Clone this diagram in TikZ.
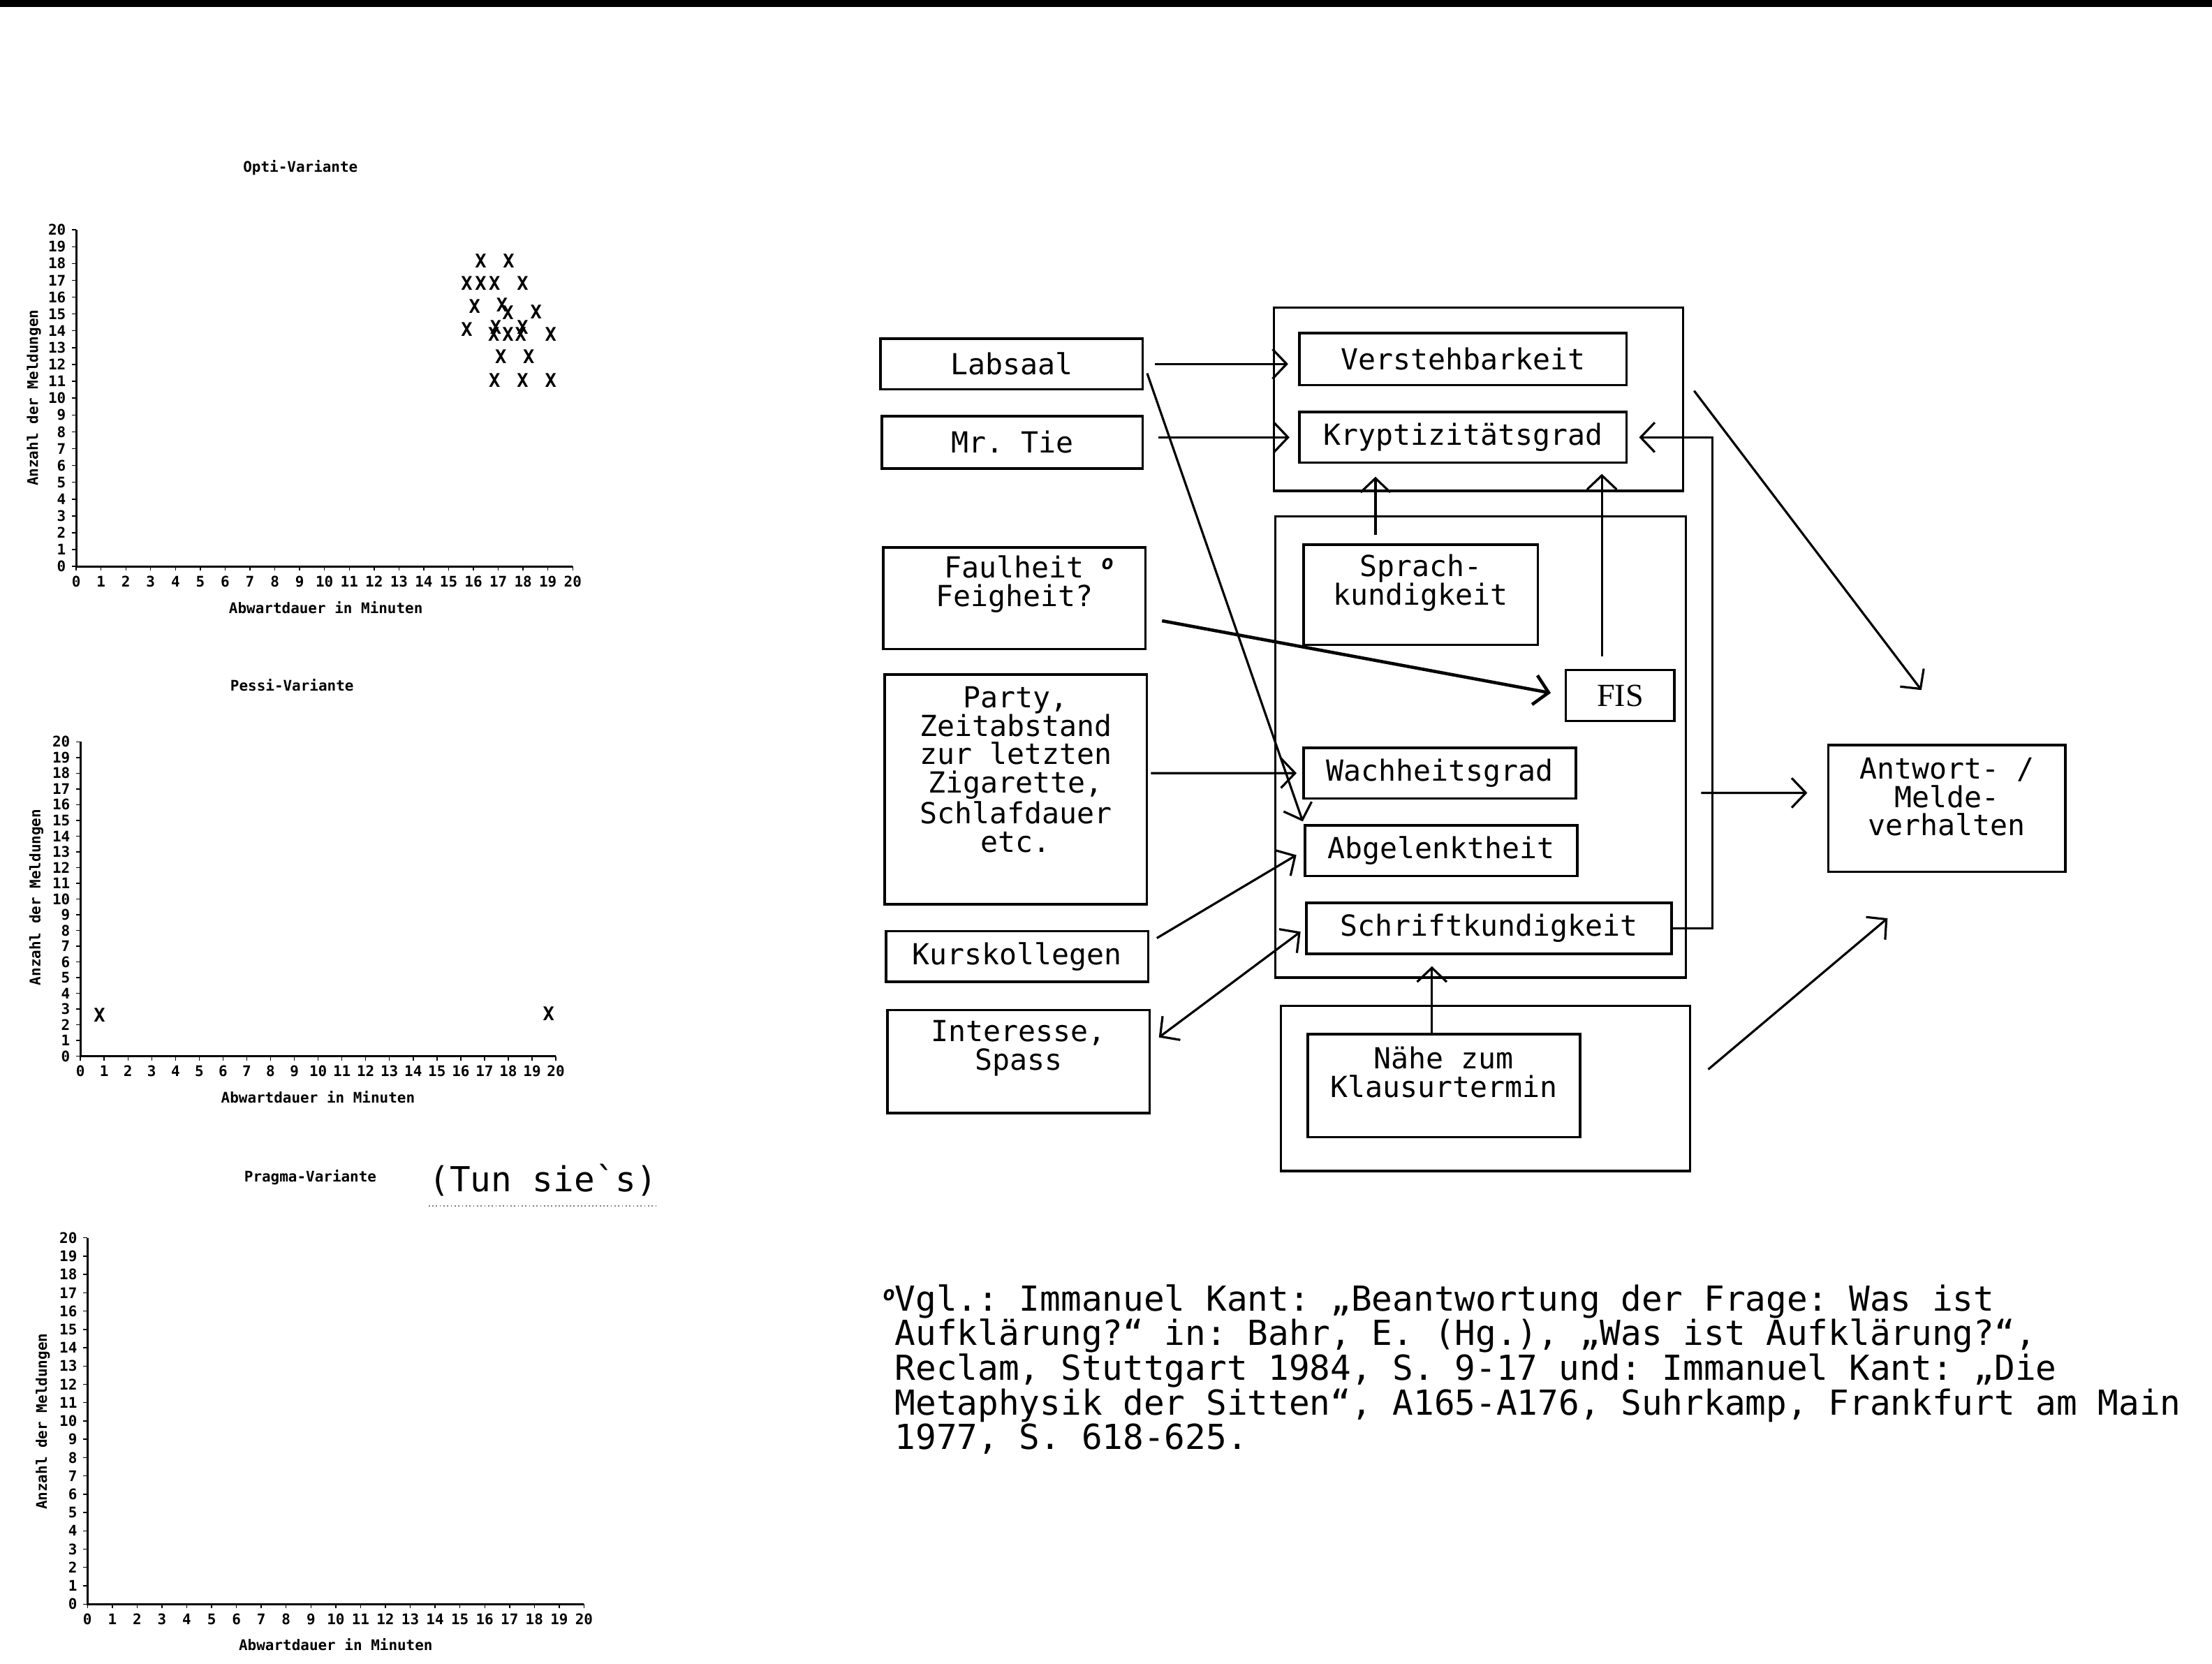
\documentclass[tikz,border=0pt]{standalone}
\usepackage{fontspec}
\setmonofont{DejaVu Sans Mono}
\newfontfamily\fisfont{Liberation Serif}
\usetikzlibrary{arrows.meta}
\newcommand{\lblfont}{\ttfamily\fontsize{11.7}{11.4}\selectfont}
\newcommand{\notefont}{\ttfamily\fontsize{13.9}{14}\selectfont}
\newcommand{\chartfont}{\ttfamily\bfseries\fontsize{5.9}{6}\selectfont}
\newcommand{\markfont}{\ttfamily\bfseries\fontsize{7.6}{8}\selectfont}
\newcommand{\fnmark}{\raisebox{0.55ex}{\fontsize{8}{8}\selectfont\bfseries\itshape o}}

\begin{document}
\frenchspacing
\begin{tikzpicture}[x=0.2mm, y=-0.2mm]
\tikzset{box/.style = {draw, line width=1pt, inner sep=0pt, align=center, font=\lblfont}}
\tikzset{txt/.style = {inner sep=0pt, align=center, font=\lblfont}}
\tikzset{edge/.style = {->, > = {Straight Barb[length=2mm,width=4.2mm]}, line width=0.9pt}}
\tikzset{axisline/.style = {line width=0.8pt}}
\tikzset{chartlbl/.style = {inner sep=0pt, font=\chartfont}}
\tikzset{xmark/.style = {inner sep=0pt, font=\markfont}}
\useasboundingbox (0,0) rectangle (1568,1179);
\fill (0,0) rectangle (1568,5);

% Opti-Variante
\node[chartlbl] (optiT) at (213,119) {Opti-Variante};
\node[chartlbl, rotate=90] (optiY) at (24,282) {Anzahl der Meldungen};
\node[chartlbl] (optiX) at (231,430.5) {Abwartdauer in Minuten};
\begin{scope}[shift={(54,401.5)}, x=3.52mm, y=2.386mm, name prefix=opti-]
\draw[axisline] (0,20) -- (0,0) -- (20,0);
\foreach \i in {0,...,20} {
  \draw (\i,0) -- ++(0pt,-0.6mm);
  \draw (0,\i) -- ++(-0.6mm,0pt);
  \node[chartlbl, anchor=north, yshift=-1.3mm] (xl\i) at (\i,0) {\i};
  \node[chartlbl, anchor=east, xshift=-1.4mm] (yl\i) at (0,\i) {\i};
}
\foreach \px/\py [count=\k] in {16.29/18.15, 17.42/18.15, 15.73/16.81, 16.29/16.81,
  16.85/16.81, 17.98/16.81, 16.05/15.46, 17.15/15.52, 17.39/15.09, 18.52/15.13,
  15.73/14.07, 16.9/14.2, 16.82/13.8, 17.39/13.8, 17.98/14.2, 17.9/13.8, 19.11/13.8,
  17.1/12.46, 18.23/12.46, 16.85/11.07, 17.98/11.07, 19.11/11.07}
  \node[xmark] (m\k) at (\px,\py) {X};
\end{scope}

% Pessi-Variante
\node[chartlbl] (pessiT) at (207,485.5) {Pessi-Variante};
\node[chartlbl, rotate=90] (pessiY) at (25.8,636) {Anzahl der Meldungen};
\node[chartlbl] (pessiX) at (225.4,777.8) {Abwartdauer in Minuten};
\begin{scope}[shift={(57,748.6)}, x=3.37mm, y=2.228mm, name prefix=pessi-]
\draw[axisline] (0,20) -- (0,0) -- (20,0);
\foreach \i in {0,...,20} {
  \draw (\i,0) -- ++(0pt,-0.6mm);
  \draw (0,\i) -- ++(-0.6mm,0pt);
  \node[chartlbl, anchor=north, yshift=-1.3mm] (xl\i) at (\i,0) {\i};
  \node[chartlbl, anchor=east, xshift=-1.4mm] (yl\i) at (0,\i) {\i};
}
\node[xmark] (m1) at (0.8,2.6) {X};
\node[xmark] (m2) at (19.7,2.7) {X};
\end{scope}

% Pragma-Variante
\node[chartlbl] (pragmaT) at (220,834.6) {Pragma-Variante};
\node[chartlbl, rotate=90] (pragmaY) at (30.3,1007.6) {Anzahl der Meldungen};
\node[chartlbl] (pragmaX) at (238,1165.6) {Abwartdauer in Minuten};
\begin{scope}[shift={(62,1137)}, x=3.52mm, y=2.596mm, name prefix=pragma-]
\draw[axisline] (0,20) -- (0,0) -- (20,0);
\foreach \i in {0,...,20} {
  \draw (\i,0) -- ++(0pt,-0.6mm);
  \draw (0,\i) -- ++(-0.6mm,0pt);
  \node[chartlbl, anchor=north, yshift=-1.3mm] (xl\i) at (\i,0) {\i};
  \node[chartlbl, anchor=east, xshift=-1.4mm] (yl\i) at (0,\i) {\i};
}
\end{scope}
\node[inner sep=0pt, font=\notefont] (tun) at (385,836.5) {(Tun sie`s)};
\draw[densely dotted, gray, line width=0.5pt] ([yshift=-1.3mm]tun.south west) -- ([yshift=-1.3mm]tun.south east);

% left column
\node[box, minimum width=37.2mm, minimum height=7.2mm] (labsaal) at (717,258) {Labsaal};
\node[box, minimum width=37mm, minimum height=7.4mm] (mrtie) at (717.5,313.5) {Mr. Tie};
\node[box, minimum width=37.2mm, minimum height=14.4mm] (faul) at (719,424) {};
\node[txt] (faulT) at (719,414) {Faulheit\rlap{\ \fnmark}\\Feigheit?};
\node[box, minimum width=37.2mm, minimum height=32.6mm] (party) at (720,559.5) {};
\node[txt] (partyT) at (720,545.5) {Party,\\Zeitabstand\\zur letzten\\Zigarette,\\Schlafdauer\\etc.};
\node[box, minimum width=37.2mm, minimum height=7.2mm] (kurs) at (721,678) {Kurskollegen};
\node[box, minimum width=37.2mm, minimum height=14.6mm] (inter) at (722,752.5) {};
\node[txt] (interT) at (722,743) {Interesse,\\Spass};

% middle column
\node[box, minimum width=58mm, minimum height=26mm] (upbox) at (1048,283) {};
\node[box, minimum width=58.2mm, minimum height=65.4mm] (midbox) at (1049.5,529.5) {};
\node[box, minimum width=58mm, minimum height=23.4mm] (lowbox) at (1053,771.5) {};
\node[box, minimum width=46.4mm, minimum height=7.4mm] (verst) at (1037,254.5) {Verstehbarkeit};
\node[box, minimum width=46.4mm, minimum height=7.2mm] (krypt) at (1037,310) {Kryptizitätsgrad};
\node[box, minimum width=33.2mm, minimum height=14.2mm] (sprach) at (1007,421.5) {};
\node[txt] (sprachT) at (1007,413) {Sprach-\\kundigkeit};
\node[box, minimum width=15.4mm, minimum height=7.2mm, font=\fisfont\fontsize{13}{13}\selectfont] (fis) at (1148.5,493) {FIS};
\node[box, minimum width=38.6mm, minimum height=7.2mm] (wach) at (1020.5,548) {Wachheitsgrad};
\node[box, minimum width=38.6mm, minimum height=7.2mm] (abgel) at (1021.5,603) {Abgelenktheit};
\node[box, minimum width=51.8mm, minimum height=7.2mm] (schrift) at (1055.5,658) {Schriftkundigkeit};
\node[box, minimum width=38.6mm, minimum height=14.6mm] (naehe) at (1023.5,769.5) {};
\node[txt] (naeheT) at (1023.5,760) {Nähe zum\\Klausurtermin};
\node[box, minimum width=33.6mm, minimum height=18mm] (antwort) at (1380,573) {};
\node[txt] (antwortT) at (1380,565) {Antwort- /\\Melde-\\verhalten};

\coordinate (sprachTop) at ([xshift=-6.4mm,yshift=1.2mm]sprach.north);
\coordinate (fisTop) at ([xshift=-2.6mm,yshift=1.8mm]fis.north);
\coordinate (naeheTop) at ([xshift=-1.7mm]naehe.north);

\draw[edge, shorten <=1.6mm, shorten >=1.4mm] (labsaal.east) -- (labsaal.east -| verst.west);
\draw[edge, shorten <=2mm, shorten >=1.2mm] (krypt.west -| mrtie.east) -- (krypt.west);
\draw[edge, shorten <=1.4mm, shorten >=0.4mm] (labsaal.east) -- (abgel.north west);
\draw[edge, line width=1.3pt, shorten <=2.2mm, shorten >=2mm] ([yshift=-2.8mm]faul.east) -- (fis.west);
\draw[edge, shorten <=0.4mm, shorten >=0.8mm] ([yshift=2.3mm]party.east) -- (wach.west);
\draw[edge, shorten <=1.2mm, shorten >=1.2mm] ([yshift=2mm]kurs.east) -- (abgel.west);
\draw[edge, <->, shorten <=0.8mm, shorten >=1.4mm] (schrift.west) -- ([yshift=2.6mm]inter.east);
\draw[edge, shorten >=1.8mm] (sprachTop) -- (sprachTop |- krypt.south);
\draw[edge, shorten >=1.4mm] (fisTop) -- (fisTop |- krypt.south);
\draw[edge, shorten >=1.6mm] (schrift.east) -- ++(28,0) |- (krypt.east);
\draw[edge, shorten >=1.6mm] (naeheTop) -- (naeheTop |- schrift.south);
\draw[edge] ([xshift=2mm,yshift=-6.5mm]midbox.east) -- ([xshift=-2.8mm,yshift=2.2mm]antwort.west);
\draw[edge] ([xshift=1.4mm,yshift=1.2mm]upbox.east) -- ([xshift=-3.6mm,yshift=7.6mm]antwort.north);
\draw[edge] ([xshift=2.4mm,yshift=2.7mm]lowbox.east) -- ([xshift=-8.4mm,yshift=-6.4mm]antwort.south);

% footnote
\node[inner sep=0pt, anchor=north west, align=left, font=\notefont] (note) at (634,910)
  {\llap{\fnmark}Vgl.: Immanuel Kant: „Beantwortung der Frage: Was ist\\
   Aufklärung?“ in: Bahr, E. (Hg.), „Was ist Aufklärung?“,\\
   Reclam, Stuttgart 1984, S. 9-17 und: Immanuel Kant: „Die\\
   Metaphysik der Sitten“, A165-A176, Suhrkamp, Frankfurt am Main\\
   1977, S. 618-625.};
\end{tikzpicture}
\end{document}
